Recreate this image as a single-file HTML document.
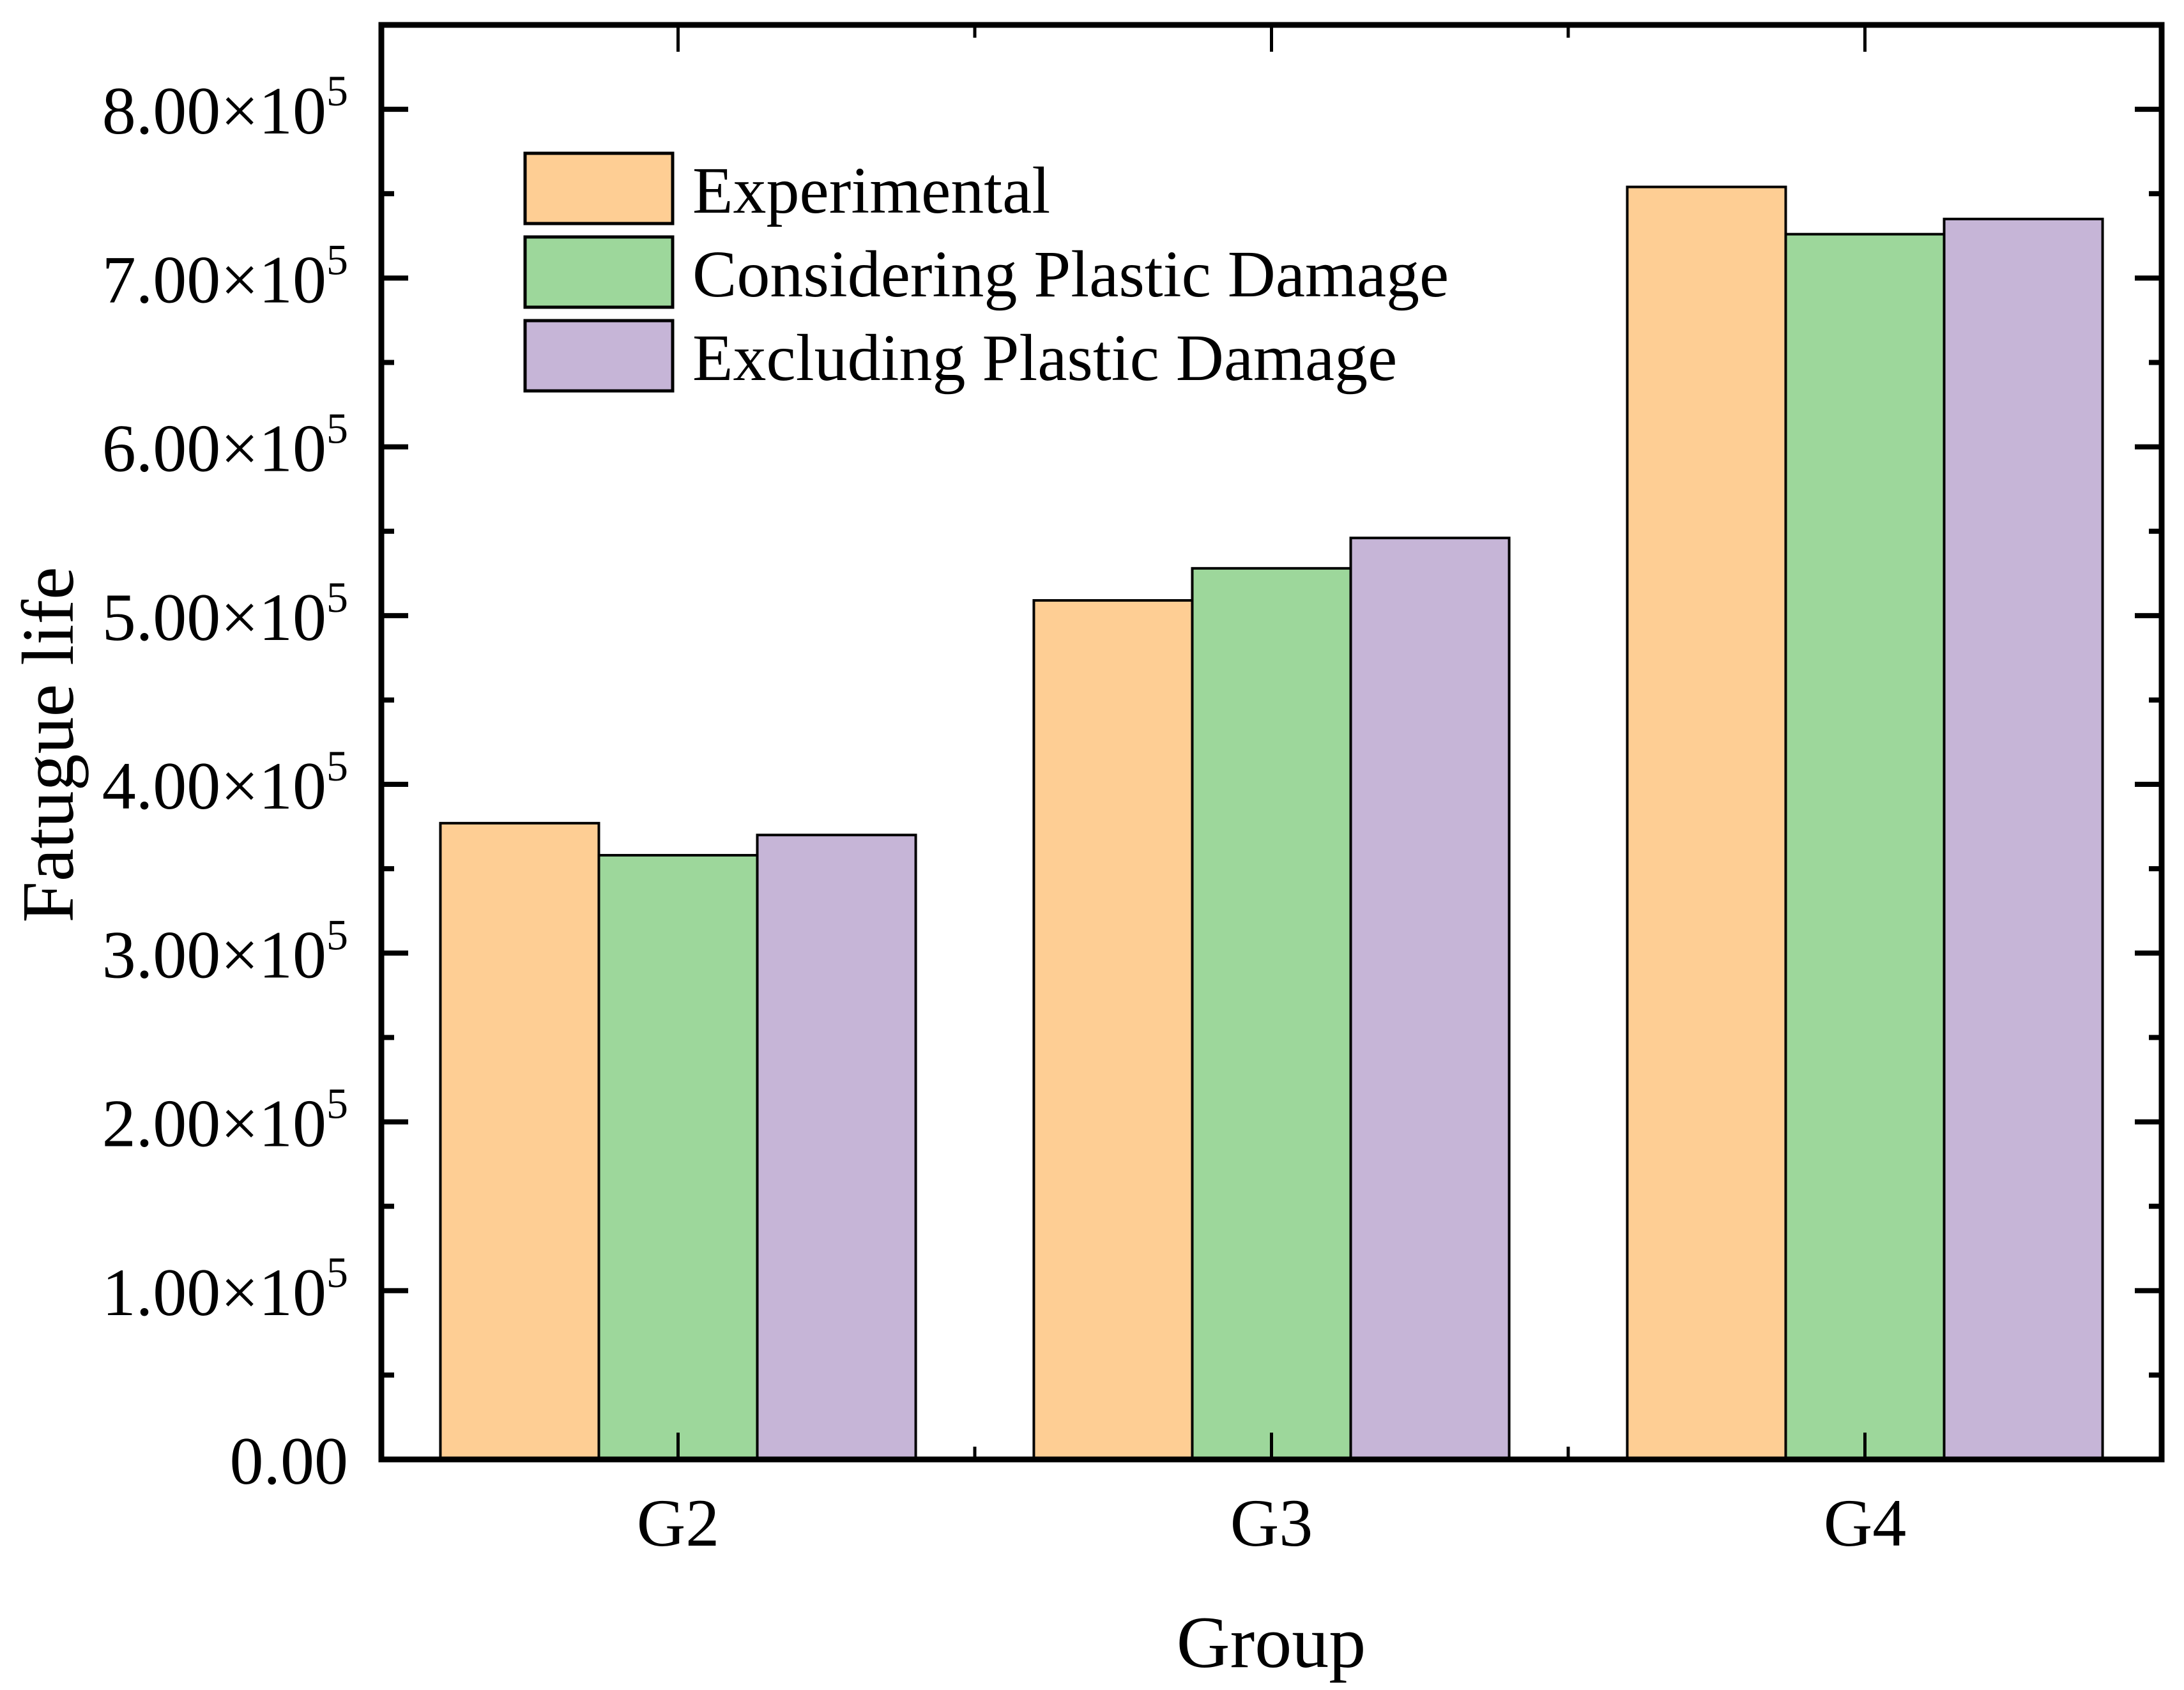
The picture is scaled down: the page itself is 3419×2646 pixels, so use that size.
<!DOCTYPE html>
<html><head><meta charset="utf-8"><style>
html,body{margin:0;padding:0;background:#fff;}
svg{display:block;font-family:"Liberation Serif",serif;}
</style></head><body>
<svg id="chart" width="3419" height="2646" viewBox="0 0 3419 2646" xmlns="http://www.w3.org/2000/svg">
<g id="bars"></g>
<g id="axes"></g>
<g id="legend"></g>
<text x="0" y="0" transform="translate(114,1166) rotate(-90)" font-size="116" text-anchor="middle">Fatugue life</text>
<text x="1990" y="2610" font-size="116" text-anchor="middle">Group</text>
</svg>
<script>
const categories = ["G2","G3","G4"];
const seriesNames = ["Experimental","Considering Plastic Damage","Excluding Plastic Damage"];
const experimental = [3.77e5, 5.09e5, 7.54e5];
const consideringPlastic = [3.58e5, 5.28e5, 7.26e5];
const excludingPlastic = [3.70e5, 5.46e5, 7.35e5];
const yTicks = [0,1e5,2e5,3e5,4e5,5e5,6e5,7e5,8e5];
const yTickLabels = ["0.00","1.00","2.00","3.00","4.00","5.00","6.00","7.00","8.00"];

const NS="http://www.w3.org/2000/svg";
const colors=["#FECE94","#9DD79B","#C6B5D7"];
const L=597,R=3384,T=39,B=2285,yMax=8.5e5;
const xs=i=>L+(R-L)*(i+0.5)/categories.length;
const ys=v=>B-(B-T)*v/yMax;
const unit=(R-L)/categories.length, bw=unit*0.267;
function mk(tag,attrs,parent){const e=document.createElementNS(NS,tag);for(const k in attrs)e.setAttribute(k,attrs[k]);parent.appendChild(e);return e;}
const bars=document.getElementById('bars'),axes=document.getElementById('axes'),legend=document.getElementById('legend');
const series=[experimental,consideringPlastic,excludingPlastic];
const snames=['experimental','considering-plastic','excluding-plastic'];
series.forEach((s,si)=>{
  s.forEach((v,ci)=>{
    const x=xs(ci)-1.5*bw+si*bw;
    const r=mk('rect',{x:x,y:ys(v),width:bw,height:B-ys(v),fill:colors[si],stroke:'#000','stroke-width':4},bars);
    
    
  });
});
const fr=mk('rect',{x:L,y:T,width:R-L,height:B-T,fill:'none',stroke:'#000','stroke-width':9},axes);


yTicks.forEach((v,i)=>{
  const y=ys(v);
  mk('line',{x1:L,x2:L+42,y1:y,y2:y,stroke:'#000','stroke-width':8},axes);
  mk('line',{x1:R,x2:R-42,y1:y,y2:y,stroke:'#000','stroke-width':8},axes);
  const t=mk('text',{x:545,y:y+38,'font-size':106,'text-anchor':'end'},axes);
  
  
  if(v===0){t.textContent=yTickLabels[i];}
  else{t.textContent=yTickLabels[i]+'\u00d710';const sp=mk('tspan',{dy:-44,'font-size':68},t);sp.textContent='5';}
  const ym=ys(v+5e4);
  if(ym>T+5){
    mk('line',{x1:L,x2:L+20,y1:ym,y2:ym,stroke:'#000','stroke-width':8},axes);
    mk('line',{x1:R,x2:R-20,y1:ym,y2:ym,stroke:'#000','stroke-width':8},axes);
  }
});
categories.forEach((c,i)=>{
  const x=xs(i);
  mk('line',{x1:x,x2:x,y1:B,y2:B-42,stroke:'#000','stroke-width':5},axes);
  mk('line',{x1:x,x2:x,y1:T,y2:T+42,stroke:'#000','stroke-width':5},axes);
  if(i<categories.length-1){
    const xm=L+unit*(i+1);
    mk('line',{x1:xm,x2:xm,y1:B,y2:B-20,stroke:'#000','stroke-width':5},axes);
    mk('line',{x1:xm,x2:xm,y1:T,y2:T+20,stroke:'#000','stroke-width':5},axes);
  }
  const t=mk('text',{x:x,y:2420,'font-size':106,'text-anchor':'middle'},axes);
  
  
  t.textContent=c;
});
seriesNames.forEach((n,i)=>{
  const y=240+i*131;
  const r=mk('rect',{x:822,y:y,width:231,height:110,fill:colors[i],stroke:'#000','stroke-width':5},legend);
  
  
  const t=mk('text',{x:1084,y:y+93,'font-size':104},legend);
  
  
  t.textContent=n;
});
</script>
</body></html>
